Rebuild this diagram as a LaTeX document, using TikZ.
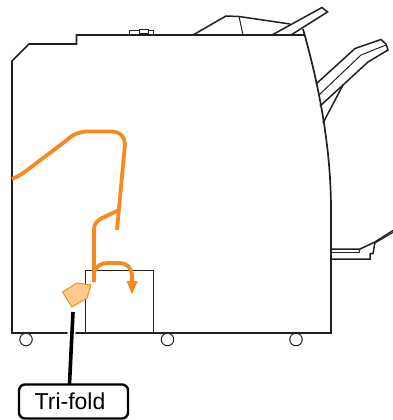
\documentclass[tikz,border=0pt]{standalone}
\usepackage{fontspec}
\setmainfont{Liberation Sans}
\definecolor{ink}{HTML}{231F20}
\definecolor{flow}{HTML}{F7891F}
\definecolor{foldfill}{HTML}{FDCB8B}
\tikzset{
  body/.style={draw=ink,line width=1.7pt,line join=miter},
  tray/.style={draw=ink,line width=1.5pt,line join=miter},
  thin part/.style={draw=ink,line width=1pt},
  flowline/.style={draw=flow,line width=3.8pt,line join=round},
  callout/.style={draw=black,line width=2.4pt,rounded corners=6pt,minimum width=109pt,minimum height=34pt,inner sep=0pt,font=\fontsize{23pt}{25pt}\selectfont},
  leader/.style={draw=black,line width=3.6pt},
  halo/.style={draw=white,line width=8pt},
  wheel/.style={circle,draw=ink,line width=1pt,fill=white,minimum size=12.5pt,inner sep=0pt}
}
\begin{document}
\begin{tikzpicture}[x=1pt,y=-1pt]
\useasboundingbox (0,0) rectangle (393,420);
% main body
\draw[body] (331,333) -- (12,333) -- (12,61) -- (29,44) -- (76.5,44) -- (76.5,35) -- (304,35);
\draw[body] (303,29) .. controls (316,75) and (331,140) .. (331,210) -- (331,333.8);
% wheels
\node[wheel] (w1) at (26,339.5) {};
\node[wheel] (w2) at (167.5,339.5) {};
\node[wheel] (w3) at (296,339.5) {};
% tray box
\draw[thin part] (85,333) -- (85,270.5) -- (153,270.5) -- (153,333);
% knob
\draw[thin part] (129,35) -- (129,31) -- (153,31) -- (153,35);
\draw[thin part,fill=white] (139.5,29.5) rectangle (148.5,33.5);
% top tray
\draw[tray] (193,35) -- (226,16) -- (239,16.5) -- (290,24);
\draw[thin part] (239,16.5) -- (243,35);
\draw[tray] (272,35) -- (322,7.5) -- (327.5,12) -- (291,35);
% middle tray
\draw[tray] (316,84) -- (355,48.5) -- (381,39.5) -- (386,44) -- (388,50) -- (368,62) -- (343,85) -- (320,106);
\draw[thin part] (319,95) -- (361,55) -- (386,45);
\draw[tray] (343,85) -- (323,123);
% lower tray
\draw[tray] (332,249) -- (360,249) -- (375,242) -- (393,230.5);
\draw[thin part] (332,252) -- (359,252);
\draw[thin part] (359,253) -- (360,249);
\draw[thin part] (375,243) -- (393,232.5);
\draw[tray] (332,259) -- (370,259) -- (370,253.5) -- (373,253.5) -- (375,242);
% orange paper paths
\draw[flowline] (12,179) .. controls (17,177) and (22,174) .. (26,171) -- (67,140) .. controls (73,134) and (80,131.5) .. (88,131.5) -- (111,131.5) .. controls (120,131.5) and (125,137) .. (125,144) -- (117,230);
\draw[flowline] (119,210) -- (102,218) .. controls (97,221) and (94,224) .. (94,229) -- (94,282);
\draw[flowline,line cap=round] (94,273) .. controls (96,266) and (101,263) .. (108,263) -- (119,263) .. controls (127,263) and (132,268) .. (132,276) -- (132,283);
\fill[flow] (126.5,281) -- (137.8,281) -- (132,294) -- cycle;
% fold mark
\draw[draw=flow,line width=1pt,fill=foldfill,line join=round] (62.5,292) -- (77,283) -- (91,285) -- (87,298) -- (72,307) -- cycle;
% callout
\node[callout] (tri) at (73.5,401.5) {Tri-fold\hspace*{7pt}};
\coordinate (lead) at (73,312);
\coordinate (foot) at (69.5,384);
\draw[halo] (72,328) -- (71,338);
\draw[leader] (lead) -- (foot);
\end{tikzpicture}
\end{document}
